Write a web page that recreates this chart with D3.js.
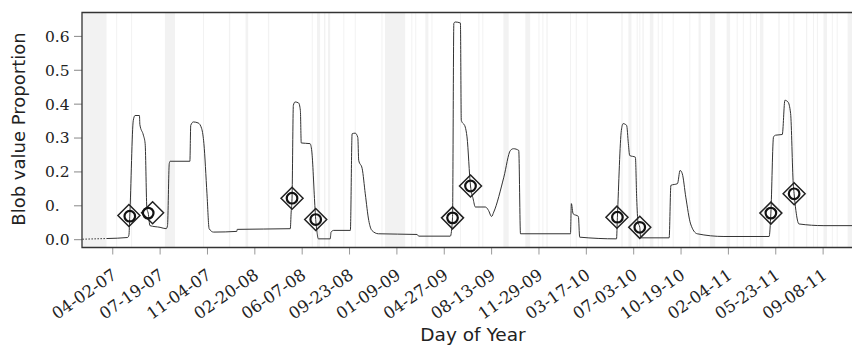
<!DOCTYPE html>
<html><head><meta charset="utf-8">
<script src="https://cdn.jsdelivr.net/npm/d3@7"></script>
<style>body{margin:0;background:#fff}svg{display:block}</style>
</head><body><svg id="c" width="853" height="345"></svg>
<script>
// ---- data ----
const baseDate = "2007-04-02"; // day offsets below are counted from this date
const xTickLabels = ["04-02-07","07-19-07","11-04-07","02-20-08","06-07-08","09-23-08","01-09-09","04-27-09","08-13-09","11-29-09","03-17-10","07-03-10","10-19-10","02-04-11","05-23-11","09-08-11"];
const yTickValues = [0,0.1,0.2,0.3,0.4,0.5,0.6];
const yTickLabels = ["0.0","0.","0.2","0.3","0.4","0.5","0.6"];
const xDomainDays = [-69, 1687];
const yDomain = [-0.0245, 0.669];

const lineDays = [-68,-12,35,38,40,48,52,62,63,71,75,79,82,86,109,123,126,130,132,177,179,185,196,204,209,216,221,231,284,285,406,408,410,413,417,425,429,431,451,455,462,464,467,470,497,499,505,543,547,554,560,562,570,577,585,592,607,695,699,771,776,779,782,794,796,805,809,817,823,828,851,858,865,870,893,908,915,927,931,1045,1047,1051,1063,1066,1150,1152,1161,1165,1173,1177,1180,1193,1196,1199,1203,1205,1270,1274,1289,1295,1300,1308,1319,1334,1395,1498,1502,1508,1513,1528,1534,1541,1547,1553,1555,1559,1566,1623,1687];
const lineValues = [0.0,0.002,0.005,0.012,0.068,0.351,0.365,0.365,0.338,0.307,0.282,0.09,0.077,0.040,0.035,0.031,0.040,0.223,0.230,0.230,0.336,0.346,0.343,0.326,0.282,0.134,0.031,0.021,0.023,0.029,0.031,0.08,0.121,0.395,0.405,0.402,0.38,0.284,0.282,0.26,0.1,0.058,0.02,0.001,0.001,0.021,0.026,0.026,0.311,0.313,0.30,0.233,0.208,0.134,0.055,0.026,0.016,0.014,0.009,0.009,0.063,0.637,0.641,0.638,0.351,0.331,0.302,0.157,0.119,0.095,0.095,0.085,0.067,0.080,0.183,0.262,0.267,0.262,0.016,0.016,0.105,0.075,0.067,0.006,0.001,0.065,0.321,0.341,0.336,0.282,0.247,0.242,0.12,0.05,0.035,0.004,0.004,0.159,0.164,0.203,0.193,0.124,0.045,0.016,0.008,0.008,0.077,0.302,0.307,0.309,0.410,0.405,0.371,0.164,0.134,0.085,0.045,0.040,0.040];
const dottedUntilDay = -12;

const circleDays   = [40,82,410,464,776,817,1152,1203,1502,1555];
const circleValues = [0.068,0.077,0.121,0.058,0.063,0.157,0.065,0.035,0.077,0.134];
const diamondDays   = [38,92,410,464,776,817,1151,1203,1502,1555];
const diamondValues = [0.070,0.078,0.121,0.058,0.063,0.157,0.065,0.035,0.077,0.134];

const gapStart = [-69,9,43,120,207,266,304,355,455,467,483,492,527,553,614,622,682,691,714,728,793,835,844,892,942,972,981,990,1044,1057,1082,1161,1177,1196,1202,1209,1226,1244,1253,1278,1316,1337,1363,1401,1424,1438,1454,1468,1477,1519,1542,1553,1582,1598,1607,1622,1641,1652,1677];
const gapEnd   = [-13,11,45,143,209,269,310,358,457,474,486,497,529,555,616,668,684,693,721,730,795,837,846,904,953,974,983,993,1046,1059,1084,1164,1184,1198,1204,1212,1234,1246,1255,1280,1318,1342,1375,1409,1426,1440,1457,1470,1485,1522,1544,1556,1585,1600,1609,1630,1643,1654,1687];

// ---- chart ----
const svg = d3.select("#c");
const L = 82, R = 852, T = 12.5, B = 247.5;
const base = d3.utcParse("%Y-%m-%d")(baseDate);
const day = n => d3.utcDay.offset(base, n);
const x = d3.scaleUtc().domain(xDomainDays.map(day)).range([L, R]);
const y = d3.scaleLinear().domain(yDomain).range([B, T]);

// missing-data bands
svg.append("g").selectAll("rect").data(gapStart).join("rect")
  .attr("x", (d,i) => x(day(d)))
  .attr("width", (d,i) => Math.max(1, x(day(gapEnd[i])) - x(day(d))))
  .attr("y", T).attr("height", B - T)
  .attr("fill", "#f2f2f2");

// x axis
const parseTick = d3.utcParse("%m-%d-%y");
const tickDates = xTickLabels.map(parseTick);
const gx = svg.append("g").attr("transform", `translate(0,${B})`)
  .call(d3.axisBottom(x).tickValues(tickDates).tickFormat(d3.utcFormat("%m-%d-%y")).tickSize(7).tickSizeOuter(0));
gx.select(".domain").remove();
gx.selectAll(".tick line").attr("stroke", "#999");
gx.selectAll(".tick text")
  .attr("x", 0).attr("y", 0).attr("dy", 0)
  .attr("text-anchor", "end")
  .attr("transform", "translate(5,30) rotate(-35)")
  .attr("font-family", "DejaVu Serif").attr("font-size", 16.5).attr("fill", "#222");

// y axis
const gy = svg.append("g").attr("transform", `translate(${L},0)`)
  .call(d3.axisLeft(y).tickValues(yTickValues).tickFormat((d,i) => yTickLabels[i]).tickSize(8).tickSizeOuter(0));
gy.select(".domain").remove();
gy.selectAll(".tick line").attr("stroke", "#888");
gy.selectAll(".tick text")
  .attr("x", -37).attr("dy", "0.35em").attr("text-anchor", "start")
  .attr("font-family", "DejaVu Serif").attr("font-size", 15.5).attr("fill", "#222");

// line
const pts = lineDays.map((d,i) => ({d: day(d), n: d, v: lineValues[i]}));
const line = d3.line().x(p => x(p.d)).y(p => y(p.v)).curve(d3.curveMonotoneX);
svg.append("path").attr("d", line(pts.filter(p => p.n <= dottedUntilDay)))
  .attr("fill", "none").attr("stroke", "#333").attr("stroke-width", 1).attr("stroke-dasharray", "1.5,1.5");
svg.append("path").attr("d", line(pts.filter(p => p.n >= dottedUntilDay)))
  .attr("fill", "none").attr("stroke", "#333").attr("stroke-width", 1);

// frame (left, top, bottom)
svg.append("path")
  .attr("d", `M${R},${T}H${L}V${B}H${R}`)
  .attr("fill", "none").attr("stroke", "#333").attr("stroke-width", 1.3);

// markers
const dsz = 11;
svg.append("g").selectAll("path").data(diamondDays).join("path")
  .attr("transform", (d,i) => `translate(${x(day(d))},${y(diamondValues[i])})`)
  .attr("d", `M0,${-dsz}L${dsz},0L0,${dsz}L${-dsz},0Z`)
  .attr("fill", "none").attr("stroke", "#222").attr("stroke-width", 1.5);
svg.append("g").selectAll("circle").data(circleDays).join("circle")
  .attr("cx", d => x(day(d))).attr("cy", (d,i) => y(circleValues[i]))
  .attr("r", 5.3).attr("fill", "none").attr("stroke", "#111").attr("stroke-width", 2.2);

// axis titles
svg.append("text").attr("x", 473).attr("y", 341).attr("text-anchor", "middle")
  .attr("font-family", "DejaVu Sans").attr("font-size", 18.5).attr("fill", "#222").text("Day of Year");
svg.append("text").attr("transform", "translate(25,129) rotate(-90)").attr("text-anchor", "middle")
  .attr("font-family", "DejaVu Sans").attr("font-size", 18).attr("fill", "#222").text("Blob value Proportion");
</script></body></html>
